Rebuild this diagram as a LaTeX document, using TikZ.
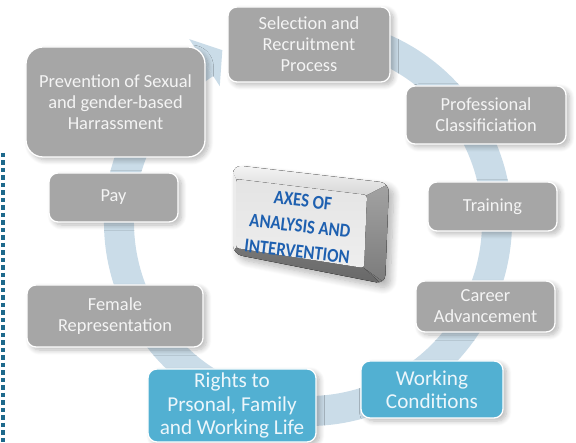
\documentclass[tikz,border=0pt]{standalone}
\usepackage{fontspec}
\setmainfont{Carlito}
\usetikzlibrary{shadows.blur}
\definecolor{boxgray}{RGB}{166,166,166}
\definecolor{boxblue}{RGB}{82,176,210}
\definecolor{txtw}{RGB}{244,244,244}
\definecolor{txtb}{RGB}{236,246,251}
\definecolor{bandc}{RGB}{202,220,232}
\definecolor{dotc}{RGB}{30,105,140}
\definecolor{axblue}{RGB}{30,96,176}
\definecolor{bevtop}{RGB}{250,250,250}
\definecolor{bevtopb}{RGB}{215,215,215}
\definecolor{bevright}{RGB}{165,165,165}
\definecolor{bevrightb}{RGB}{120,120,120}
\definecolor{bevbot}{RGB}{118,118,118}
\definecolor{bevbotb}{RGB}{100,100,100}
\definecolor{facec}{RGB}{228,228,228}
\definecolor{facecb}{RGB}{238,238,238}
\tikzset{
  softshadow/.style={blur shadow={shadow blur steps=8, shadow xshift=3.5pt, shadow yshift=-3pt, shadow blur radius=5pt, shadow opacity=28}},
  basebox/.style={rectangle, rounded corners=9pt, draw=white, line width=1.3pt, align=center, inner sep=0pt, softshadow},
  graybox/.style={basebox, fill=boxgray, text=txtw, font=\fontsize{18.4}{21}\selectfont},
  bluebox/.style={basebox, fill=boxblue, text=txtb, font=\fontsize{21.2}{23.5}\selectfont},
  ctext/.style={align=center, inner sep=0pt, text=axblue, font=\bfseries\fontsize{19.5}{25.5}\selectfont, rotate=-6.5, xscale=0.86},
}
\begin{document}
\begin{tikzpicture}[x=1pt,y=-1pt]
\useasboundingbox (0,0) rectangle (576,443);
% circular band with arrow head
\coordinate (cc) at (308,222);
\fill[bandc] ([shift={(308,222)}]-80:204) arc[start angle=-80, end angle=237, radius=204]
  -- ([shift={(308,222)}]237:174) arc[start angle=237, end angle=-80, radius=174] -- cycle;
\coordinate (ahout) at ([shift={(308,222)}]237:218);
\coordinate (ahin) at ([shift={(308,222)}]237:162);
\coordinate (ahtip) at ([shift={(308,222)}]243.5:192);
\fill[bandc] (ahout) -- (ahtip) -- (ahin) -- cycle;
% dotted line on the left
\coordinate (dtop) at (3.2,153);
\coordinate (dbot) at (3.2,443);
\draw[dotc, line width=3.8pt, dash pattern=on 4.2pt off 3.3pt] (dtop) -- (dbot);
% boxes
\node[graybox, minimum width=162pt, minimum height=75pt] (sel) at (309,44.5) {Selection and\\Recruitment\\Process};
\node[graybox, rounded corners=17pt, minimum width=179pt, minimum height=110pt] (prev) at (115.5,102) {Prevention of Sexual\\and gender-based\\Harrassment};
\node[graybox, minimum width=160pt, minimum height=58pt] (prof) at (486,115) {Professional\\Classificiation};
\node[graybox, minimum width=129pt, minimum height=49pt] (pay) at (113.5,197.5) {Pay};
\node[graybox, minimum width=129pt, minimum height=49pt] (train) at (492.5,206.5) {Training};
\node[graybox, minimum width=176pt, minimum height=62pt] (fem) at (115,316) {Female\\Representation};
\node[graybox, minimum width=139pt, minimum height=51pt] (car) at (485.5,306.5) {Career\\Advancement};
\node[bluebox, minimum width=142pt, minimum height=57pt] (work) at (432,389.5) {Working\\Conditions};
\node[bluebox, minimum width=168pt, minimum height=73pt] (rights) at (232,405.5) {Rights to\\Prsonal, Family\\and Working Life};
% central bevelled button
\coordinate (oTL) at (233,165);
\coordinate (oTR) at (389,183);
\coordinate (oBR) at (385,284);
\coordinate (oBL) at (233,254);
\coordinate (fTL) at (236,179);
\coordinate (fTR) at (367,195);
\coordinate (fBR) at (364,268);
\coordinate (fBL) at (236,248);
\fill[rounded corners=9pt, blur shadow={shadow blur steps=10, shadow xshift=5pt, shadow yshift=-5pt, shadow blur radius=7pt, shadow opacity=30}, top color=bevright, bottom color=bevrightb]
  (oTL) -- (oTR) -- (oBR) -- (oBL) -- cycle;
\begin{scope}
  \clip[rounded corners=9pt] (oTL) -- (oTR) -- (oBR) -- (oBL) -- cycle;
  \fill[top color=bevright, bottom color=bevrightb] (fTR) -- (395,178) -- (395,290) -- (fBR) -- cycle;
  \fill[top color=bevtop, bottom color=bevtopb] ($(oTL)+(-5,-5)$) -- ($(oTR)+(5,-2)$) -- (fTR) -- (fTL) -- cycle;
  \fill[gray!15] ($(oTL)+(-5,-5)$) -- (fTL) -- (fBL) -- ($(oBL)+(-5,5)$) -- cycle;
  \fill[top color=bevbot, bottom color=bevbotb] (fBL) -- (fBR) -- ($(oBR)+(5,8)$) -- ($(oBL)+(-5,5)$) -- cycle;
\end{scope}
\fill[rounded corners=3pt, top color=facec, bottom color=facecb] (fTL) -- (fTR) -- (fBR) -- (fBL) -- cycle;
\node[ctext] (ctr) at (300,226) {AXES OF\\ANALYSIS AND\\INTERVENTION};
\end{tikzpicture}
\end{document}
